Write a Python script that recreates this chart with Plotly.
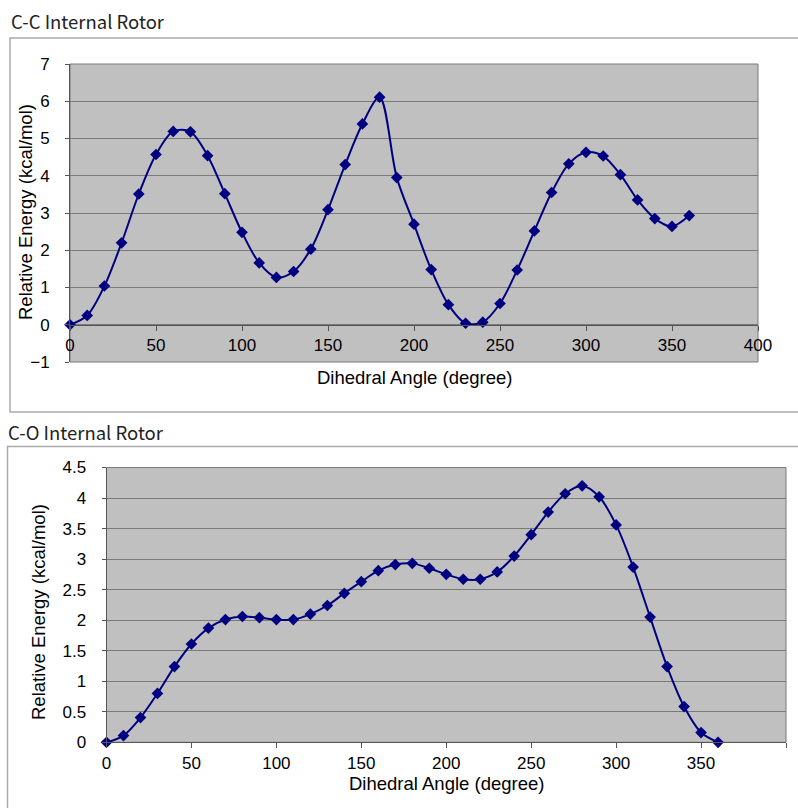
import plotly.graph_objects as go

angles = list(range(0, 370, 10))
cc_energy = [0, 0.25, 1.04, 2.2, 3.51, 4.57, 5.19, 5.18, 4.54, 3.52, 2.48, 1.66, 1.27,
             1.43, 2.03, 3.09, 4.30, 5.39, 6.11, 3.95, 2.70, 1.48, 0.54, 0.04, 0.07,
             0.57, 1.47, 2.52, 3.55, 4.32, 4.63, 4.53, 4.03, 3.35, 2.85, 2.64, 2.93]
co_energy = [0, 0.11, 0.405, 0.80, 1.24, 1.61, 1.87, 2.01, 2.06, 2.04, 2.01, 2.01, 2.10,
             2.24, 2.44, 2.63, 2.81, 2.91, 2.93, 2.85, 2.75, 2.67, 2.67, 2.79, 3.05,
             3.40, 3.77, 4.07, 4.20, 4.02, 3.56, 2.87, 2.05, 1.24, 0.585, 0.16, 0]
titles = ["C-C Internal Rotor", "C-O Internal Rotor"]
x_title = "Dihedral Angle (degree)"
y_title = "Relative Energy (kcal/mol)"

W, H = 798, 808
def px(v): return v / W
def py(v): return 1 - v / H

NAVY = "#000080"
fig = go.Figure()
for i, (yv, xa, ya) in enumerate([(cc_energy, "x", "y"), (co_energy, "x2", "y2")]):
    fig.add_trace(go.Scatter(
        x=angles, y=yv, xaxis=xa, yaxis=ya, mode="lines+markers",
        line=dict(color=NAVY, width=2, shape="spline", smoothing=0.9),
        marker=dict(symbol="diamond", size=9, color=NAVY),
        showlegend=False, cliponaxis=False))

tickfont = dict(family="Liberation Sans, Arial", size=17, color="#000000")
titlefont = dict(family="Liberation Sans, Arial", size=18.5, color="#000000")

# chart 1
d1x = [px(70), px(758)]
d1y = [py(362), py(64)]
x0pos = py(325)
# chart 2
d2x = [px(106.5), px(786)]
d2y = [py(742.3), py(467.5)]

fig.update_layout(
    width=W, height=H, margin=dict(l=0, r=0, t=0, b=0, autoexpand=False),
    paper_bgcolor="white", plot_bgcolor="#C0C0C0",
    xaxis=dict(domain=d1x, anchor="free", position=x0pos, range=[0, 400],
               tickvals=list(range(0, 401, 50)), showgrid=False, zeroline=False,
               showline=True, linecolor="#555555", linewidth=1,
               ticks="outside", ticklen=5, tickcolor="#555555",
               tickfont=tickfont, ticklabelstandoff=0),
    yaxis=dict(domain=d1y, anchor="x", range=[-1, 7], dtick=1,
               showgrid=True, gridcolor="#7a7a7a", gridwidth=1, zeroline=False,
               showline=True, linecolor="#555555", linewidth=1,
               ticks="outside", ticklen=4, tickcolor="#555555",
               tickfont=tickfont, ticklabelstandoff=12),
    xaxis2=dict(domain=d2x, anchor="y2", range=[0, 400],
                tickvals=list(range(0, 401, 50)), showgrid=False, zeroline=False,
                showline=True, linecolor="#555555", linewidth=1,
                ticks="outside", ticklen=5, tickcolor="#555555",
                tickfont=tickfont, ticklabelstandoff=0),
    yaxis2=dict(domain=d2y, anchor="x2", range=[0, 4.5], dtick=0.5,
                showgrid=True, gridcolor="#7a7a7a", gridwidth=1, zeroline=False,
                showline=True, linecolor="#555555", linewidth=1,
                ticks="outside", ticklen=4, tickcolor="#555555",
                tickfont=tickfont, ticklabelstandoff=12),
)

shapes = []
# outer boxes
shapes.append(dict(type="rect", xref="paper", yref="paper", x0=px(10), x1=px(805),
                   y0=py(412), y1=py(38), line=dict(color="#aaaaaa", width=1.5)))
shapes.append(dict(type="rect", xref="paper", yref="paper", x0=px(7.5), x1=px(805),
                   y0=py(815), y1=py(446.5), line=dict(color="#aaaaaa", width=1.5)))
# plot area borders
shapes.append(dict(type="rect", xref="x domain", yref="y domain", x0=0, x1=1, y0=0, y1=1,
                   line=dict(color="#7a7a7a", width=1), layer="below"))
shapes.append(dict(type="rect", xref="x2 domain", yref="y2 domain", x0=0, x1=1, y0=0, y1=1,
                   line=dict(color="#7a7a7a", width=1), layer="below"))
fig.update_layout(shapes=shapes)

ann = []
hfont = dict(family="Noto Sans CJK SC, Noto Sans", size=18.5, color="#222222")
ann.append(dict(text=titles[0], xref="paper", yref="paper", x=px(9), y=py(21),
                xanchor="left", yanchor="middle", showarrow=False, font=hfont))
ann.append(dict(text=titles[1], xref="paper", yref="paper", x=px(6), y=py(432),
                xanchor="left", yanchor="middle", showarrow=False, font=hfont))
# axis titles
ann.append(dict(text=x_title, xref="paper", yref="paper", x=px(414), y=py(377),
                xanchor="center", yanchor="middle", showarrow=False, font=titlefont))
ann.append(dict(text=y_title, xref="paper", yref="paper", x=px(25), y=py(212),
                xanchor="center", yanchor="middle", showarrow=False, font=titlefont,
                textangle=-90))
ann.append(dict(text=x_title, xref="paper", yref="paper", x=px(446), y=py(783),
                xanchor="center", yanchor="middle", showarrow=False, font=titlefont))
ann.append(dict(text=y_title, xref="paper", yref="paper", x=px(38), y=py(612),
                xanchor="center", yanchor="middle", showarrow=False, font=titlefont,
                textangle=-90))
fig.update_layout(annotations=ann)

fig.write_html("out.html", config={"displayModeBar": False},
               post_script="document.body.style.margin='0';document.body.style.overflow='hidden';")
